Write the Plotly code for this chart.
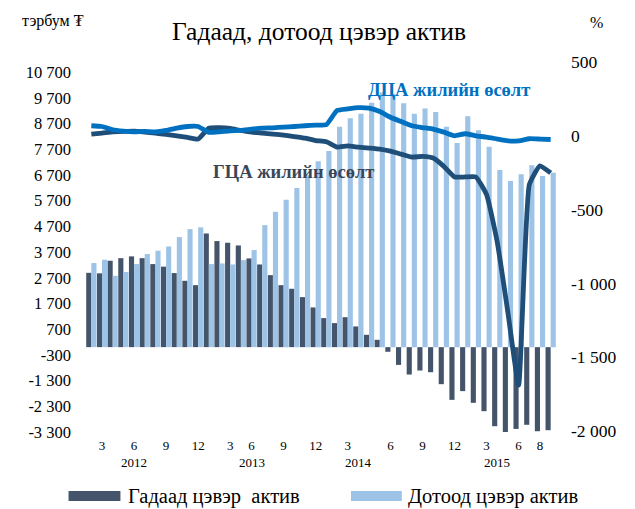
import plotly.graph_objects as go

# ---------------- data ----------------
month_labels = ["", "3", "", "", "6", "", "", "9", "", "", "12", "",
                "", "3", "", "6", "", "", "9", "", "", "12", "",
                "", "3", "", "", "", "6", "", "", "9", "", "", "12", "",
                "", "3", "", "", "6", "", "8", ""]
year_labels = ["2012", "2013", "2014", "2015"]
year_label_month = [5, 16, 26, 39]

external_net_assets = [2890, 2870, 3360, 3460, 3530, 3460, 3230, 3130, 2880, 2580, 2410, 4420,
                       4125, 4060, 3955, 3450, 3215, 2800, 2410, 2270, 1945, 1545, 1130, 935,
                       1165, 805, 480, 285, -180, -690, -1065, -910, -975, -1440, -2050, -1710,
                       -2165, -2490, -3075, -3305, -3180, -3020, -3270, -3230]
domestic_net_assets = [3270, 3400, 2775, 2920, 3230, 3620, 3750, 3915, 4280, 4590, 4660, 3230,
                       3255, 3215, 3385, 3775, 4745, 5265, 5735, 6185, 6680, 7225, 7630, 8575,
                       8900, 9080, 9505, 9900, 9850, 9480, 9080, 9285, 9145, 8575, 7940, 8975,
                       8430, 7795, 6885, 6460, 6720, 7070, 6655, 6785]
gca_growth = [11, 18, 27, 30, 32, 25, 18, 9, 0, -11, -22, 52,
              55, 50, 36, 25, 18, 11, 5, -5, -16, -32, -40, -77,
              -68, -77, -83, -90, -104, -124, -144, -140, -151, -207, -279, -279,
              -279, -399, -720, -1198, -1690, -331, -203, -252]
dca_growth = [68, 63, 41, 32, 27, 30, 27, 36, 52, 63, 63, 23,
              27, 34, 36, 45, 52, 54, 59, 63, 68, 72, 75, 171,
              182, 191, 187, 164, 126, 97, 68, 56, 45, 25, 0, 14,
              0, -9, -22, -34, -34, -20, -22, -25]

left_ticks = list(range(-3300, 10701, 1000))
right_ticks = [-2000, -1500, -1000, -500, 0, 500]

legend_names = ["Гадаад цэвэр  актив", "Дотоод цэвэр актив"]
line_names = ["ГЦА жилийн өсөлт", "ДЦА жилийн өсөлт"]

# ---------------- style ----------------
C_DARK = "#44546A"
C_LIGHT = "#9DC3E6"
C_LINE_DARK = "#1F4E79"
C_LINE_LIGHT = "#0070C0"
FONT = "Liberation Serif, Times New Roman, serif"

W, H = 635, 509
PL, PR, PT, PB = 85.5, 556.5, 62, 432


def px(x):
    return (x - PL) / (PR - PL)


def py(y):
    return (PB - y) / (PB - PT)


def fmt(v):
    s = f"{abs(v):,}".replace(",", " ")
    return ("-" if v < 0 else "") + s


months = list(range(1, len(external_net_assets) + 1))

fig = go.Figure()
fig.add_trace(go.Bar(x=months, y=external_net_assets, name=legend_names[0],
                     marker=dict(color=C_DARK, line=dict(width=0)), showlegend=False))
fig.add_trace(go.Bar(x=months, y=domestic_net_assets, name=legend_names[1],
                     marker=dict(color=C_LIGHT, line=dict(width=0)), showlegend=False))
fig.add_trace(go.Scatter(x=months, y=gca_growth, yaxis="y2", mode="lines",
                         line=dict(color=C_LINE_DARK, width=4.8, shape="spline", smoothing=0.4),
                         name=line_names[0], showlegend=False))
fig.add_trace(go.Scatter(x=months, y=dca_growth, yaxis="y2", mode="lines",
                         line=dict(color=C_LINE_LIGHT, width=4.8, shape="spline", smoothing=0.4),
                         name=line_names[1], showlegend=False))

tickvals = [i for i, l in zip(months, month_labels) if l]
ticktext = [l for l in month_labels if l]

fig.update_layout(
    width=W, height=H,
    margin=dict(l=PL, r=W - PR, t=PT, b=H - PB, pad=0),
    paper_bgcolor="white", plot_bgcolor="white",
    barmode="group", bargap=0.04, bargroupgap=0,
    font=dict(family=FONT, color="black"),
    hovermode=False,
    xaxis=dict(range=[0.5, len(months) + 0.5], tickvals=tickvals, ticktext=ticktext,
               showgrid=False, zeroline=False, showline=False, ticks="",
               tickfont=dict(size=13, family=FONT), ticklabelstandoff=4),
    yaxis=dict(range=[-3300, 11089], tickvals=left_ticks, ticktext=[fmt(v) for v in left_ticks],
               showgrid=False, zeroline=False, showline=False, ticks="",
               tickfont=dict(size=16.5, family=FONT), ticklabelstandoff=14),
    yaxis2=dict(range=[-2007, 500], tickvals=right_ticks, ticktext=[fmt(v) for v in right_ticks],
                overlaying="y", side="right", showgrid=False, zeroline=False,
                showline=False, ticks="", tickfont=dict(size=17.5, family=FONT),
                ticklabelstandoff=14),
    showlegend=False,
)


def note(text, x, y, size, color="black", xanchor="center", xref="paper"):
    return dict(text=text, x=x, y=y, xref=xref, yref="paper", xanchor=xanchor, yanchor="middle",
                showarrow=False, font=dict(size=size, family=FONT, color=color))


ann = [
    note("Гадаад, дотоод цэвэр актив", px(319), py(32), 25.5),
    note("тэрбум ₮", px(19), py(21), 16, xanchor="left"),
    note("%", px(597), py(22), 16),
    note("<b>" + line_names[1] + "</b>", px(449), py(90), 18.5, C_LINE_LIGHT),
    note("<b>" + line_names[0] + "</b>", px(293), py(172), 18.5, "#3A4556"),
    note(legend_names[0], px(126), py(496), 20.5, xanchor="left"),
    note(legend_names[1], px(406), py(496), 20.5, xanchor="left"),
]
for lbl, m in zip(year_labels, year_label_month):
    ann.append(note(lbl, m, py(462), 13, xref="x"))
fig.update_layout(annotations=ann)

shapes = [
    dict(type="rect", xref="paper", yref="paper", x0=px(68), x1=px(120), y0=py(501), y1=py(491),
         fillcolor=C_DARK, line=dict(width=0)),
    dict(type="rect", xref="paper", yref="paper", x0=px(351), x1=px(402), y0=py(501), y1=py(491),
         fillcolor=C_LIGHT, line=dict(width=0)),
]
fig.update_layout(shapes=shapes)

fig.write_html("out.html", config={"displayModeBar": False},
               post_script="document.body.style.margin='0';")
